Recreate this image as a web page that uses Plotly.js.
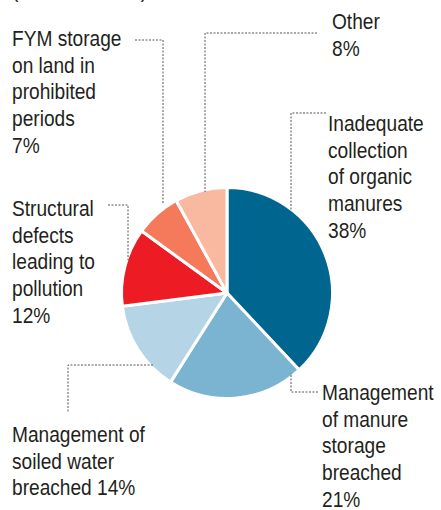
<!DOCTYPE html>
<html>
<head>
<meta charset="utf-8">
<script src="https://cdn.plot.ly/plotly-3.0.1.min.js"></script>
<style>
html,body{margin:0;padding:0;background:#fff;}
#chart{width:441px;height:510px;}
</style>
</head>
<body>
<div id="chart"></div>
<script>
// ---- data ----
const categories = [
  "Inadequate collection of organic manures",
  "Management of manure storage breached",
  "Management of soiled water breached",
  "Structural defects leading to pollution",
  "FYM storage on land in prohibited periods",
  "Other"
];
const values = [38, 21, 14, 12, 7, 8];
const labelLines = [
  ["Inadequate", "collection", "of organic", "manures"],
  ["Management", "of manure", "storage", "breached"],
  ["Management of", "soiled water", "breached"],
  ["Structural", "defects", "leading to", "pollution"],
  ["FYM storage", "on land in", "prohibited", "periods"],
  ["Other"]
];
const colors = ["#00668f", "#7ab4d1", "#b5d5e6", "#ed1c24", "#f47a5b", "#f9b8a0"];
const subtitle = "(% of breaches)";

// ---- layout config (pixels) ----
const W = 441, H = 510;
const cx = 227, cy = 293, R = 105.5;
const FONT = "'Liberation Sans', Arial, sans-serif";
const FSIZE = 22;
const LH = 26.7;       // line height
const XSCALE = 0.87;   // condensed look
const labelPos = [
  {x: 326, y: 109, sameLine: false},
  {x: 320, y: 378, sameLine: false},
  {x: 10,  y: 420, sameLine: true},
  {x: 10,  y: 194, sameLine: false},
  {x: 10,  y: 24,  sameLine: false},
  {x: 330, y: 7,   sameLine: false}
];
const leaders = [
  [[326,113],[291,113],[291,210]],
  [[318,392],[291,392],[291,373]],
  [[153,365],[68,365],[68,413]],
  [[108,205],[128,205],[128,260]],
  [[135,40],[163,40],[163,203]],
  [[317,33],[205,33],[205,192]]
];

const px = x => x / W;
const py = y => 1 - y / H;

const trace = {
  type: "pie",
  labels: categories,
  values: values,
  sort: false,
  direction: "clockwise",
  rotation: 0,
  textinfo: "none",
  hoverinfo: "label+percent",
  marker: {colors: colors, line: {color: "#ffffff", width: 3}},
  domain: {x: [px(cx - R), px(cx + R)], y: [py(cy + R), py(cy - R)]},
  showlegend: false
};

function textAnn(x, y, text) {
  return {
    xref: "paper", yref: "paper",
    x: px(x), y: py(y),
    xanchor: "left", yanchor: "top", align: "left",
    showarrow: false, text: text,
    font: {family: FONT, size: FSIZE, color: "#231f20"}
  };
}

const annotations = [];
categories.forEach((c, i) => {
  const lines = labelLines[i].slice();
  const pct = values[i] + "%";
  if (labelPos[i].sameLine) lines[lines.length - 1] += " " + pct;
  else lines.push(pct);
  lines.forEach((ln, k) => annotations.push(textAnn(labelPos[i].x, labelPos[i].y + k * LH, ln)));
});
annotations.push(textAnn(10, -24.5, subtitle));

const shapes = leaders.map(pts => ({
  type: "path", xref: "paper", yref: "paper",
  path: pts.map((p, j) => (j ? "L" : "M") + px(p[0]) + "," + py(p[1])).join(" "),
  line: {color: "#555555", width: 1, dash: "2px,1.5px"}
}));

const layout = {
  width: W, height: H,
  margin: {l: 0, r: 0, t: 0, b: 0},
  paper_bgcolor: "#ffffff",
  plot_bgcolor: "#ffffff",
  annotations: annotations,
  shapes: shapes
};

Plotly.newPlot("chart", [trace], layout, {displayModeBar: false, staticPlot: true}).then(() => {
  document.querySelectorAll("#chart .annotation-text").forEach(t => {
    const bb = t.getBBox();
    const x0 = bb.x;
    const prev = t.getAttribute("transform") || "";
    t.setAttribute("transform", prev + " translate(" + x0 + ",0) scale(" + XSCALE + ",1) translate(" + (-x0) + ",0)");
  });
});
</script>
</body>
</html>
